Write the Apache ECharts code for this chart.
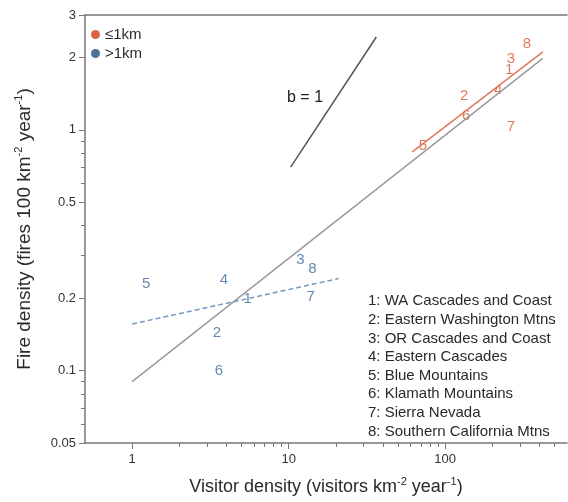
<!DOCTYPE html>
<html>
<head>
<meta charset="utf-8">
<script src="https://cdn.jsdelivr.net/npm/echarts@6/dist/echarts.min.js"></script>
<style>
  html, body { margin: 0; padding: 0; background: #fff; }
  #chart { width: 568px; height: 502px; }
</style>
</head>
<body>
<div id="chart"></div>
<script>
// region numbers used as point labels
const regionIds = [1, 2, 3, 4, 5, 6, 7, 8]
const regionNames = [
    'WA Cascades and Coast',
    'Eastern Washington Mtns',
    'OR Cascades and Coast',
    'Eastern Cascades',
    'Blue Mountains',
    'Klamath Mountains',
    'Sierra Nevada',
    'Southern California Mtns'
]

// <=1km from roads
const nearVisitors = [256, 132, 263, 218, 72, 136, 263, 333]
const nearFires = [1.78, 1.38, 1.98, 1.47, 0.86, 1.14, 1.03, 2.28]

// >1km from roads
const farVisitors = [5.48, 3.48, 11.9, 3.86, 1.23, 3.58, 13.8, 14.2]
const farFires = [0.198, 0.143, 0.288, 0.239, 0.23, 0.10, 0.203, 0.265]

// fitted lines (end points)
const allFitX = [1, 420]
const allFitY = [0.09, 1.98]
const nearFitX = [61.6, 421]
const nearFitY = [0.81, 2.11]
const farFitX = [1, 20.8]
const farFitY = [0.156, 0.241]
const slopeOneX = [10.3, 36.3]
const slopeOneY = [0.70, 2.43]

// axis ticks
const xRange = [0.5, 600]
const yRange = [0.05, 3]
const xMajorTicks = [1, 10, 100]
const xMinorTicks = [2, 3, 4, 5, 6, 7, 8, 9, 20, 30, 40, 50, 60, 70, 80, 90, 200, 300, 400, 500]
const yMajorTicks = [0.05, 0.1, 0.2, 0.5, 1, 2, 3]
const yMinorTicks = [0.06, 0.07, 0.08, 0.09, 0.3, 0.4, 0.6, 0.7, 0.8, 0.9]

const lg = v => Math.log10(v)
const fmt = v => String(Number(Math.pow(10, v).toPrecision(2)))

const RED = '#d85a33'
const BLUE = '#3c6d9e'
const AXIS = '#777'
const TEXT = '#2a2a2a'

function points(xs, ys) {
    return xs.map((x, i) => [lg(x), lg(ys[i]), regionIds[i]])
}
function segment(xs, ys) {
    return xs.map((x, i) => [lg(x), lg(ys[i])])
}

let myChart = echarts.init(document.getElementById('chart'))

// 坐标轴公共部分
const axisBase = (range) => ({
    type: 'value',
    min: lg(range[0]),
    max: lg(range[1]),
    splitLine: { show: false },
    axisLine: { show: false, onZero: false },
    axisLabel: { show: false },
    axisTick: { show: false }
})
const axisLineOn = { show: true, onZero: false, lineStyle: { color: AXIS, width: 1.5 } }

// 上标 rich 样式
const supRich = (size) => ({
    t: { fontSize: size, color: TEXT, fontFamily: 'Liberation Sans', lineHeight: size + 5 },
    s: { fontSize: Math.round(size * 0.6), color: TEXT, fontFamily: 'Liberation Sans', verticalAlign: 'top', lineHeight: size + 5, padding: [0, 0, Math.round(size * 0.55), 0] }
})

let options = {
    animation: false,
    textStyle: { fontFamily: 'Liberation Sans' },
    grid: { left: 85, right: 1, top: 15, bottom: 56 },
    xAxis: [
        Object.assign(axisBase(xRange), {
            position: 'bottom',
            axisLine: axisLineOn,
            axisTick: { show: true, length: 6, lineStyle: { color: AXIS }, customValues: xMajorTicks.map(lg) },
            axisLabel: { show: true, color: '#333', fontSize: 13, margin: 10, customValues: xMajorTicks.map(lg), formatter: fmt },
            name: '{t|Visitor density (visitors km}{s|-2}{t| year}{s|-1}{t|)}',
            nameLocation: 'middle',
            nameGap: 33,
            nameTextStyle: { rich: supRich(18) }
        }),
        Object.assign(axisBase(xRange), {
            position: 'bottom',
            axisTick: { show: true, length: 4, lineStyle: { color: AXIS }, customValues: xMinorTicks.map(lg) }
        }),
        Object.assign(axisBase(xRange), {
            position: 'top',
            axisLine: axisLineOn
        })
    ],
    yAxis: [
        Object.assign(axisBase(yRange), {
            position: 'left',
            axisLine: axisLineOn,
            axisTick: { show: true, length: 6, lineStyle: { color: AXIS }, customValues: yMajorTicks.map(lg) },
            axisLabel: { show: true, color: '#333', fontSize: 13, margin: 9, customValues: yMajorTicks.map(lg), formatter: fmt },
            name: '{t|Fire density (fires 100 km}{s|-2}{t| year}{s|-1}{t|)}',
            nameLocation: 'middle',
            nameGap: 48,
            nameTextStyle: { rich: supRich(19) }
        }),
        Object.assign(axisBase(yRange), {
            position: 'left',
            axisTick: { show: true, length: 4, lineStyle: { color: AXIS }, customValues: yMinorTicks.map(lg) }
        })
    ],
    legend: {
        data: ['≤1km', '>1km'],
        orient: 'vertical',
        left: 86,
        top: 22,
        icon: 'circle',
        itemWidth: 9,
        itemHeight: 9,
        itemGap: 4,
        textStyle: { fontSize: 15, color: TEXT }
    },
    graphic: [
        {
            type: 'text',
            left: 368,
            top: 292,
            style: {
                text: regionNames.map((n, i) => regionIds[i] + ': ' + n).join('\n'),
                fontSize: 15,
                lineHeight: 18.6,
                fill: TEXT,
                fontFamily: 'Liberation Sans'
            }
        },
        {
            type: 'text',
            left: 287,
            top: 90,
            style: { text: 'b = 1', fontSize: 16, fill: '#222', fontFamily: 'Liberation Sans' }
        }
    ],
    series: [
        {
            type: 'line',
            data: segment(allFitX, allFitY),
            symbol: 'none',
            silent: true,
            lineStyle: { color: '#9a9a9a', width: 1.5 }
        },
        {
            type: 'line',
            data: segment(nearFitX, nearFitY),
            symbol: 'none',
            silent: true,
            lineStyle: { color: '#e2785a', width: 1.5 }
        },
        {
            type: 'line',
            data: segment(farFitX, farFitY),
            symbol: 'none',
            silent: true,
            lineStyle: { color: '#7398c2', width: 1.5, type: [5, 3] }
        },
        {
            type: 'line',
            data: segment(slopeOneX, slopeOneY),
            symbol: 'none',
            silent: true,
            lineStyle: { color: '#555', width: 1.5 }
        },
        {
            name: '≤1km',
            type: 'scatter',
            data: points(nearVisitors, nearFires),
            symbolSize: 0,
            itemStyle: { color: '#cf3e1c' },
            label: { show: true, position: 'inside', formatter: p => p.data[2], color: RED, fontSize: 15 }
        },
        {
            name: '>1km',
            type: 'scatter',
            data: points(farVisitors, farFires),
            symbolSize: 0,
            itemStyle: { color: '#1f4f82' },
            label: { show: true, position: 'inside', formatter: p => p.data[2], color: BLUE, fontSize: 15 }
        }
    ]
}

myChart.setOption(options)
</script>
</body>
</html>
